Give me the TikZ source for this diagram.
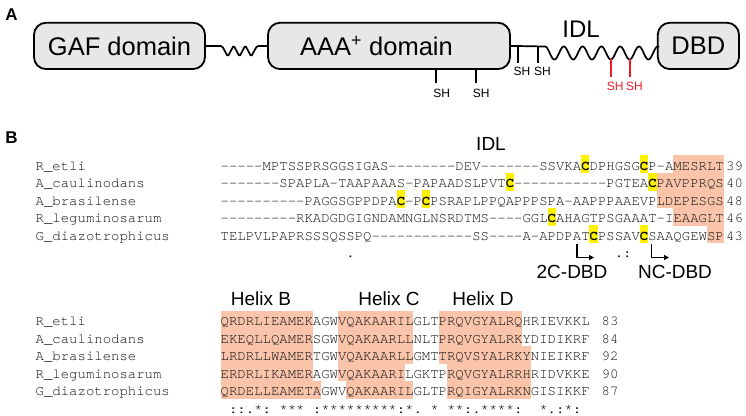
\documentclass[tikz,border=0pt]{standalone}
\usepackage{fontspec}
\setmainfont{Liberation Sans}
\setmonofont{TeX Gyre Cursor}
\usetikzlibrary{arrows.meta}
\definecolor{salmon}{RGB}{250,196,170}
\definecolor{hlyellow}{RGB}{255,242,0}
\definecolor{boxgray}{RGB}{230,231,233}
\definecolor{shred}{RGB}{237,28,36}
\definecolor{seqtext}{RGB}{15,15,15}
\newcommand\xo{220.5}
\newcommand\dx{8.385}
\newcommand\hlbox[4]{\fill[#1] ({\xo+(#3)*\dx},{#2-14.8}) rectangle ({\xo+(#4+1)*\dx},{#2+3.2});}
\newcommand\cb{{\bfseries C}}
\begin{document}
\begin{tikzpicture}[x=1pt,y=-1pt,
  seq/.style={font=\ttfamily\fontsize{13.975}{16}\selectfont, text=seqtext, inner sep=0pt, anchor=base west},
  dom/.style={draw=black, line width=1.8pt, fill=boxgray, rounded corners=12pt, minimum height=46.3pt, inner sep=0pt, font=\fontsize{25.5}{28}\selectfont},
  shlab/.style={font=\fontsize{12}{13}\selectfont, inner sep=0pt},
  stub/.style={line width=1.8pt},
  link/.style={line width=1.7pt},
  panel/.style={font=\bfseries\fontsize{17}{18}\selectfont, inner sep=0pt, anchor=base},
  lab/.style={font=\fontsize{19}{20}\selectfont, inner sep=0pt, anchor=base},
  bent/.style={line width=1.6pt, -{Triangle[length=5pt,width=5pt]}}
]
\useasboundingbox (0,0) rectangle (746,415);

% ---------- Panel A ----------
\node[panel] (pa) at (11.5,20) {A};
\node[dom, minimum width=171pt] (gaf) at (119.5,45.9) {GAF domain};
\node[dom, minimum width=242pt] (aaa) at (389,45.9) {AAA\textsuperscript{+} domain\hspace*{25pt}};
\node[dom, minimum width=81.2pt] (dbd) at (698.4,45.9) {DBD};
\node[font=\fontsize{24}{26}\selectfont, inner sep=0pt] (idla) at (581,29.5) {IDL};

\draw[link, rounded corners=1.5pt] (gaf.east) -- (222,45.9) -- (227.8,56.5) -- (233.7,45.5) -- (239.5,56.5) -- (245.3,45.5) -- (251.2,56.5) -- (257,45.9) -- (aaa.west);
\draw[link] (aaa.east) -- (545,46.5) plot[domain=0:112.8, samples=160] ({545+\x},{53-6.5*cos(19.149*\x)}) -- (dbd.west);

% SH stubs
\coordinate (a1) at (436.3,69);
\coordinate (a2) at (476.3,69);
\coordinate (l1) at (517.7,46.5);
\coordinate (l2) at (538.3,46.5);
\coordinate (r1) at (610.8,59.3);
\coordinate (r2) at (629.6,59.3);
\node[shlab] (sha1) at (441.8,93.3) {SH};
\node[shlab] (sha2) at (481.3,93.3) {SH};
\node[shlab] (shl1) at (522,71.7) {SH};
\node[shlab] (shl2) at (542.5,71.7) {SH};
\node[shlab, text=shred] (shr1) at (615.2,86.7) {SH};
\node[shlab, text=shred] (shr2) at (634.5,86.7) {SH};
\draw[stub] (a1) -- ++(0,14.3);
\draw[stub] (a2) -- ++(0,14.3);
\draw[stub] (l1) -- ++(0,16.8);
\draw[stub] (l2) -- ++(0,16.8);
\draw[stub, shred, line width=2.2pt] (r1) -- ++(0,17.4);
\draw[stub, shred, line width=2.2pt] (r2) -- ++(0,17.4);

% ---------- Panel B ----------
\node[panel] (pb) at (11.5,143.5) {B};
\node[lab] (idlb) at (491,150) {IDL};

% highlights top block
\hlbox{salmon}{170}{54}{59}
\hlbox{salmon}{187.5}{52}{59}
\hlbox{salmon}{205}{52}{59}
\hlbox{salmon}{222.5}{54}{59}
\hlbox{salmon}{240}{58}{59}
\hlbox{hlyellow}{170}{43}{43}
\hlbox{hlyellow}{170}{50}{50}
\hlbox{hlyellow}{187.5}{34}{34}
\hlbox{hlyellow}{187.5}{51}{51}
\hlbox{hlyellow}{205}{21}{21}
\hlbox{hlyellow}{205}{24}{24}
\hlbox{hlyellow}{222.5}{39}{39}
\hlbox{hlyellow}{240}{44}{44}
\hlbox{hlyellow}{240}{50}{50}

\node[seq] (n1) at (35.5,170) {R\_etli};
\node[seq] (n2) at (35.5,187.5) {A\_caulinodans};
\node[seq] (n3) at (35.5,205) {A\_brasilense};
\node[seq] (n4) at (35.5,222.5) {R\_leguminosarum};
\node[seq] (n5) at (35.5,240) {G\_diazotrophicus};

\node[seq] (s1) at (\xo,170) {-----MPTSSPRSGGSIGAS--------DEV-------SSVKA\cb DPHGSG\cb P-AMESRLT};
\node[seq] (s2) at (\xo,187.5) {-------SPAPLA-TAAPAAAS-PAPAADSLPVT\cb -----------PGTEA\cb PAVPPRQS};
\node[seq] (s3) at (\xo,205) {----------PAGGSGPPDPA\cb -P\cb PSRAPLPPQAPPPSPA-AAPPPAAEVPLDEPESGS};
\node[seq] (s4) at (\xo,222.5) {---------RKADGDGIGNDAMNGLNSRDTMS----GGL\cb AHAGTPSGAAAT-IEAAGLT};
\node[seq] (s5) at (\xo,240) {TELPVLPAPRSSSQSSPQ------------SS----A-APDPAT\cb PSSAV\cb SAAQGEWSP};
\node[seq] (k1) at ({\xo+15*\dx},257.5) {.};
\node[seq] (k2) at ({\xo+47*\dx},257.5) {.:};

\node[seq] (m1) at (726,170) {39};
\node[seq] (m2) at (726,187.5) {40};
\node[seq] (m3) at (726,205) {48};
\node[seq] (m4) at (726,222.5) {46};
\node[seq] (m5) at (726,240) {43};

\coordinate (c2c) at (577,244);
\coordinate (cnc) at (651.5,244);
\coordinate (e2c) at (594,257.5);
\coordinate (enc) at (669,257.5);
\draw[bent] (c2c) |- (e2c);
\draw[bent] (cnc) |- (enc);
\node[lab] (t2c) at (572,278) {2C-DBD};
\node[lab] (tnc) at (675,278) {NC-DBD};

% bottom block
\node[lab] (hb) at (261,305) {Helix B};
\node[lab] (hc) at (389,305) {Helix C};
\node[lab] (hd) at (483,305) {Helix D};

\hlbox{salmon}{325.7}{0}{10}
\hlbox{salmon}{343.2}{0}{10}
\hlbox{salmon}{360.7}{0}{10}
\hlbox{salmon}{378.2}{0}{10}
\hlbox{salmon}{395.7}{0}{11}
\hlbox{salmon}{325.7}{14}{22}
\hlbox{salmon}{343.2}{14}{22}
\hlbox{salmon}{360.7}{14}{22}
\hlbox{salmon}{378.2}{14}{21}
\hlbox{salmon}{395.7}{15}{22}
\hlbox{salmon}{325.7}{26}{35}
\hlbox{salmon}{343.2}{26}{35}
\hlbox{salmon}{360.7}{26}{36}
\hlbox{salmon}{378.2}{27}{36}
\hlbox{salmon}{395.7}{27}{36}

\node[seq] (b1) at (35.5,325.7) {R\_etli};
\node[seq] (b2) at (35.5,343.2) {A\_caulinodans};
\node[seq] (b3) at (35.5,360.7) {A\_brasilense};
\node[seq] (b4) at (35.5,378.2) {R\_leguminosarum};
\node[seq] (b5) at (35.5,395.7) {G\_diazotrophicus};

\node[seq] (q1) at (\xo,325.7) {QRDRLIEAMEKAGWVQAKAARILGLTPRQVGYALRQHRIEVKKL};
\node[seq] (q2) at (\xo,343.2) {EKEQLLQAMERSGWVQAKAARLLNLTPRQVGYALRKYDIDIKRF};
\node[seq] (q3) at (\xo,360.7) {LRDRLLWAMERTGWVQAKAARLLGMTTRQVSYALRKYNIEIKRF};
\node[seq] (q4) at (\xo,378.2) {ERDRLIKAMERAGWVQAKAARILGKTPRQVGYALRRHRIDVKKE};
\node[seq] (q5) at (\xo,395.7) {QRDELLEAMETAGWVQAKAARILGLTPRQIGYALRKNGISIKKF};

\node[seq] (w1) at ({\xo+1*\dx},413.2) {::.*:};
\node[seq] (w2) at ({\xo+7*\dx},413.2) {***};
\node[seq] (w3) at ({\xo+11*\dx},413.2) {:*********:*.};
\node[seq] (w4) at ({\xo+25*\dx},413.2) {*};
\node[seq] (w5) at ({\xo+27*\dx},413.2) {**:.****:};
\node[seq] (w6) at ({\xo+38*\dx},413.2) {*.:*:};

\node[seq] (p1) at (601.5,325.7) {83};
\node[seq] (p2) at (601.5,343.2) {84};
\node[seq] (p3) at (601.5,360.7) {92};
\node[seq] (p4) at (601.5,378.2) {90};
\node[seq] (p5) at (601.5,395.7) {87};
\end{tikzpicture}
\end{document}
